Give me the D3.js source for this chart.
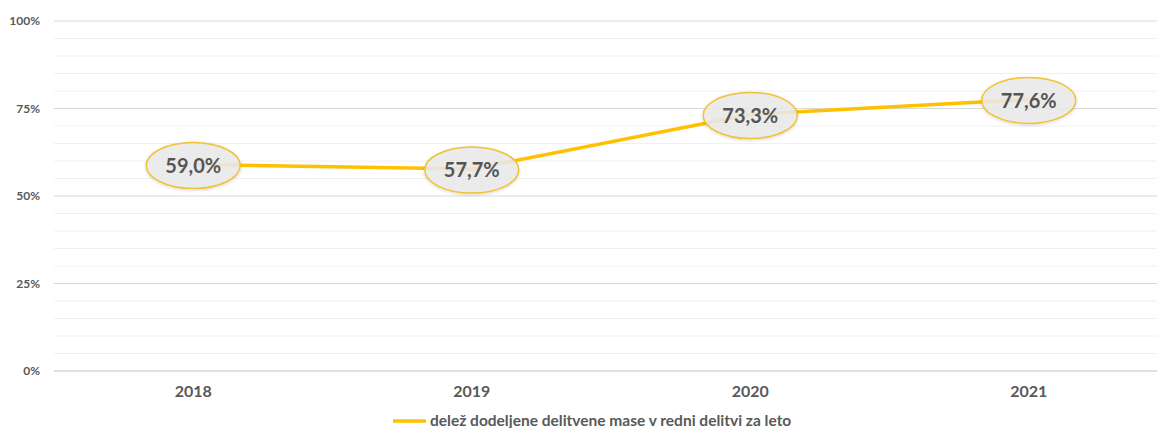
<!DOCTYPE html>
<html>
<head>
<meta charset="utf-8">
<script src="https://cdn.jsdelivr.net/npm/d3@7"></script>
<style>
  body { margin: 0; background: #fff; }
  svg { display: block; font-family: Lato, "Open Sans", sans-serif; }
</style>
</head>
<body>
<svg id="chart"></svg>
<script>
// data
const years = ["2018", "2019", "2020", "2021"];
const shares = [59.0, 57.7, 73.3, 77.6];
const yTicks = [0, 25, 50, 75, 100];
const seriesName = "delež dodeljene delitvene mase v redni delitvi za leto";

const width = 1157, height = 428;
const margin = {top: 21, right: -11, bottom: 57, left: 54};

const svg = d3.select("#chart")
    .attr("width", width)
    .attr("height", height);

const x = d3.scaleBand()
    .domain(years)
    .range([margin.left, width - margin.right]);

const y = d3.scaleLinear()
    .domain([0, 100])
    .range([height - margin.bottom, margin.top]);

// minor gridlines
svg.append("g")
    .selectAll("line")
    .data(d3.range(0, 101, 5).filter(v => v % 25 !== 0))
    .join("line")
    .attr("x1", margin.left)
    .attr("x2", width)
    .attr("y1", d => y(d))
    .attr("y2", d => y(d))
    .attr("stroke", "#f0f0f0")
    .attr("stroke-width", 1);

// major gridlines
svg.append("g")
    .selectAll("line")
    .data(yTicks)
    .join("line")
    .attr("x1", margin.left)
    .attr("x2", width)
    .attr("y1", d => y(d))
    .attr("y2", d => y(d))
    .attr("stroke", d => d === 0 ? "#d4d4d4" : "#d9d9d9")
    .attr("stroke-width", d => d === 0 ? 1.5 : 1);

// y axis labels
const yAxis = d3.axisLeft(y)
    .tickValues(yTicks)
    .tickFormat(d => d + "%")
    .tickSize(0)
    .tickPadding(0);
svg.append("g")
    .attr("transform", `translate(40,0)`)
    .call(yAxis)
    .call(g => g.select(".domain").remove())
    .call(g => g.selectAll("text")
        .attr("fill", "#595959")
        .attr("font-size", "12px")
        .attr("font-weight", "bold")
        .attr("font-family", "Lato, sans-serif"));

// x axis labels
const xAxis = d3.axisBottom(x).tickSize(0).tickPadding(0);
svg.append("g")
    .attr("transform", `translate(0,${y(0) + 15})`)
    .call(xAxis)
    .call(g => g.select(".domain").remove())
    .call(g => g.selectAll("text")
        .attr("fill", "#595959")
        .attr("font-size", "16px")
        .attr("font-weight", "bold")
        .attr("font-family", "Lato, sans-serif"));

// line
const cx = d => x(d.year) + x.bandwidth() / 2;
const pts = years.map((yr, i) => ({year: yr, val: shares[i]}));

svg.append("path")
    .datum(pts)
    .attr("fill", "none")
    .attr("stroke", "#FFC000")
    .attr("stroke-width", 3.5)
    .attr("d", d3.line().x(cx).y(d => y(d.val)));

// shadow for bubbles
const defs = svg.append("defs");
const f = defs.append("filter").attr("id", "shadow")
    .attr("x", "-20%").attr("y", "-30%").attr("width", "140%").attr("height", "160%");
f.append("feDropShadow")
    .attr("dx", 0).attr("dy", 1)
    .attr("stdDeviation", 1.5)
    .attr("flood-color", "#000")
    .attr("flood-opacity", 0.18);

// data label bubbles
const lbl = svg.append("g")
    .selectAll("g")
    .data(pts)
    .join("g")
    .attr("transform", d => `translate(${cx(d)},${y(d.val) + 1})`);

lbl.append("ellipse")
    .attr("rx", 47)
    .attr("ry", 23)
    .attr("fill", "#ebebeb")
    .attr("fill-opacity", 0.85)
    .attr("stroke", "#f2c231")
    .attr("stroke-width", 1.5)
    .attr("filter", "url(#shadow)");

lbl.append("text")
    .attr("text-anchor", "middle")
    .attr("dy", "0.36em")
    .attr("fill", "#555555")
    .attr("font-size", "20px")
    .attr("font-weight", "bold")
    .text(d => d.val.toFixed(1).replace(".", ",") + "%");

// legend
const legend = svg.append("g").attr("transform", "translate(393,421)");
legend.append("line")
    .attr("x1", 0).attr("x2", 33)
    .attr("y1", 0).attr("y2", 0)
    .attr("stroke", "#FFC000")
    .attr("stroke-width", 3.5);
legend.append("text")
    .attr("x", 37)
    .attr("y", 5)
    .attr("fill", "#595959")
    .attr("font-size", "15.5px")
    .attr("font-weight", "bold")
    .text(seriesName);
</script>
</body>
</html>
